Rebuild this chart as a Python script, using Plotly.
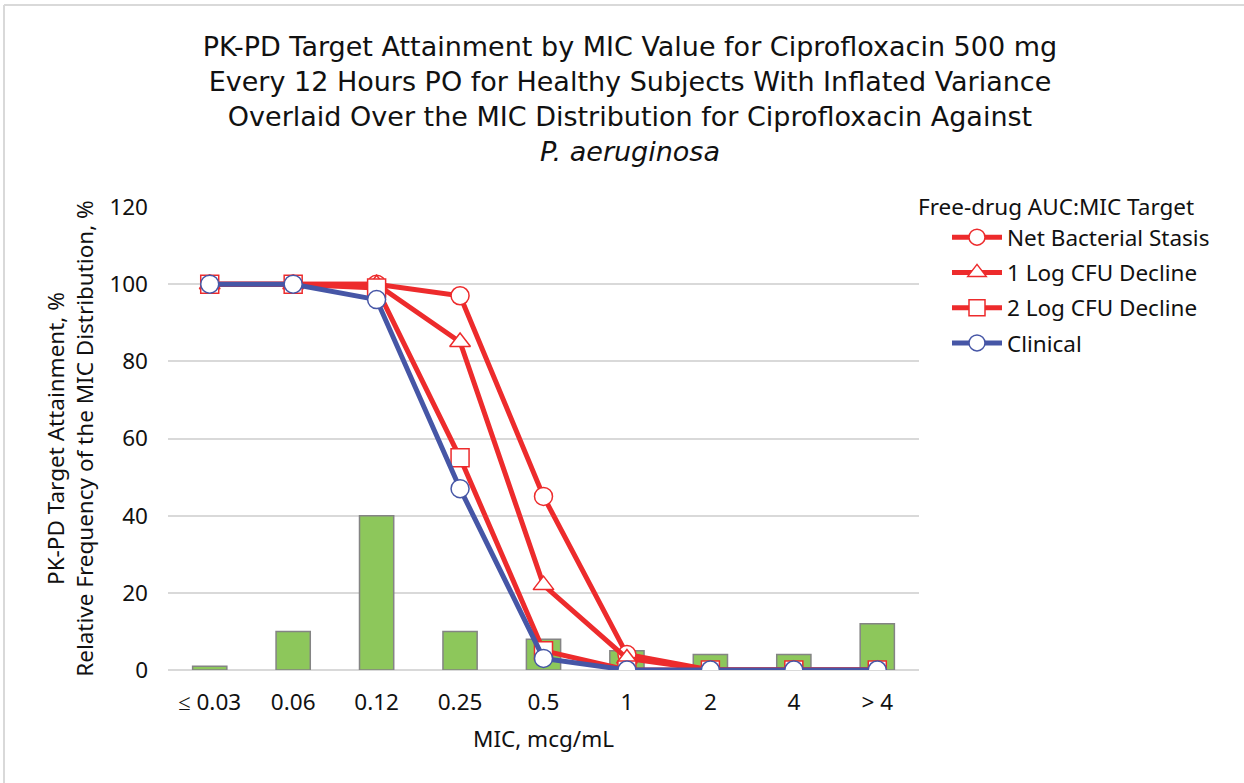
import plotly.graph_objects as go

categories = ["≤ 0.03", "0.06", "0.12", "0.25", "0.5", "1", "2", "4", "> 4"]
mic_distribution = [1, 10, 40, 10, 8, 5, 4, 4, 12]
net_stasis = [100, 100, 100, 97, 45, 4, 0, 0, 0]
one_log = [100, 100, 100, 85, 22, 3, 0, 0, 0]
two_log = [100, 100, 99, 55, 5, 0, 0, 0, 0]
clinical = [100, 100, 96, 47, 3, 0, 0, 0, 0]

FONT = "Noto Sans"
TFONT = "DejaVu Sans"
TXT = "#111111"
RED = "#ED2B2C"
BLUE = "#4656A6"
FS = 22.5

PL, PR, PT, PB = 168, 919, 207, 670
W, H = 1244, 783
pw, ph = PR - PL, PB - PT

def px(x):
    return (x - PL) / pw

def py(y):
    return (PB - y) / ph

fig = go.Figure()
fig.add_trace(go.Bar(x=categories, y=mic_distribution, width=0.41,
                     marker=dict(color="#8DC75B", line=dict(color="#848484", width=1.5)),
                     showlegend=False))

def line(name, ys, color, symbol):
    fig.add_trace(go.Scatter(x=categories, y=ys, name=name, mode="lines+markers",
                             legendgroup=name,
                             line=dict(color=color, width=5),
                             marker=dict(symbol=symbol, size=18, color="white",
                                         line=dict(color=color, width=1.5))))

line("Net Bacterial Stasis", net_stasis, RED, "circle")
line("1 Log CFU Decline", one_log, RED, "triangle-up")
line("2 Log CFU Decline", two_log, RED, "square")
line("Clinical", clinical, BLUE, "circle")

fig.update_layout(
    width=W, height=H,
    margin=dict(l=PL, r=W - PR, t=PT, b=H - PB, autoexpand=False),
    paper_bgcolor="white", plot_bgcolor="white",
    font=dict(family=FONT, size=FS, color=TXT),
    title=dict(text="PK-PD Target Attainment by MIC Value for Ciprofloxacin 500 mg<br>"
                    "Every 12 Hours PO for Healthy Subjects With Inflated Variance<br>"
                    "Overlaid Over the MIC Distribution for Ciprofloxacin Against<br>"
                    "<i>P. aeruginosa</i>",
               x=630 / W, xanchor="center", y=1 - 56 / H, yanchor="top",
               font=dict(family=TFONT, size=27, color=TXT)),
    legend=dict(x=px(947), xanchor="left", y=py(216), yanchor="top",
                font=dict(size=FS), itemwidth=50, tracegroupgap=3,
                bgcolor="rgba(0,0,0,0)"),
    bargap=0.59,
)
fig.add_annotation(text="Free-drug AUC:MIC Target", xref="paper", yref="paper",
                   x=px(916), y=py(206), xanchor="left", yanchor="middle",
                   showarrow=False, font=dict(size=FS, color=TXT))
fig.update_xaxes(type="category", range=[-0.5, len(categories) - 0.5],
                 showgrid=False, showline=False, ticks="", automargin=False,
                 tickfont=dict(size=FS), ticklabelstandoff=16,
                 title=dict(text="MIC, mcg/mL", font=dict(size=FS), standoff=15))
fig.update_yaxes(range=[0, 120], dtick=20, showgrid=True, gridcolor="#D9D9D9", gridwidth=1.5,
                 zeroline=True, zerolinecolor="#D9D9D9", zerolinewidth=1.5, automargin=False,
                 showline=False, ticks="", tickfont=dict(size=FS), ticklabelstandoff=19,
                 title=dict(text="PK-PD Target Attainment, %<br>Relative Frequency of the MIC Distribution, %",
                            font=dict(size=FS), standoff=9))
fig.add_shape(type="line", xref="paper", yref="paper", x0=px(4), x1=px(4), y0=py(5), y1=py(H + 5),
              line=dict(color="#D9D9D9", width=2))
fig.add_shape(type="line", xref="paper", yref="paper", x0=px(4), x1=px(W + 5), y0=py(5), y1=py(5),
              line=dict(color="#D9D9D9", width=2))

fig.write_html("out.html", config={"displayModeBar": False},
               post_script="document.body.style.margin='0';")
